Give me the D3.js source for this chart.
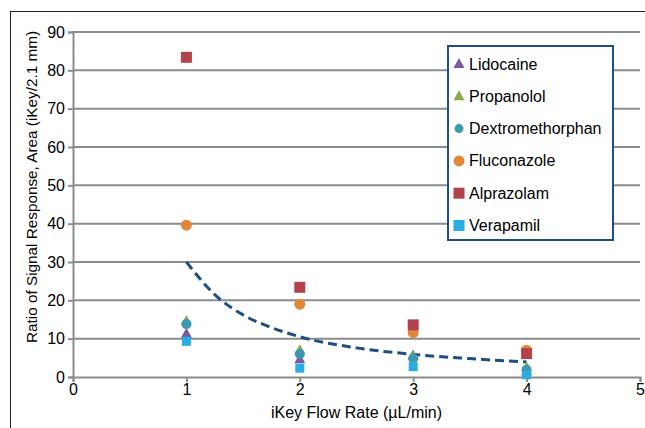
<!DOCTYPE html>
<html><head><meta charset="utf-8">
<script src="https://cdn.jsdelivr.net/npm/d3@7"></script>
<style>body{margin:0;background:#fff}svg{display:block;font-family:"Liberation Sans",Arial,sans-serif}</style>
</head><body><svg id="c" width="645" height="428"></svg>
<script>
const flowRates = [1, 2, 3, 4];
const seriesNames = ["Lidocaine", "Propanolol", "Dextromethorphan", "Fluconazole", "Alprazolam", "Verapamil"];
const lidocaine = [11.3, 4.6, 5.6, 1.5];
const propanolol = [14.6, 7.0, 5.4, 2.5];
const dextromethorphan = [13.8, 6.0, 4.9, 1.9];
const fluconazole = [39.6, 19.0, 11.6, 7.0];
const alprazolam = [83.4, 23.4, 13.6, 6.1];
const verapamil = [9.3, 2.3, 2.7, 0.6];
const trendX = [1, 1.25, 1.5, 1.75, 2, 2.5, 3, 3.5, 4];
const trendY = [30, 21.5, 16.2, 12.9, 10.5, 7.6, 5.9, 4.8, 3.9];
const xTicks = [0, 1, 2, 3, 4, 5];
const yTicks = [0, 10, 20, 30, 40, 50, 60, 70, 80, 90];

const seriesValues = [lidocaine, propanolol, dextromethorphan, fluconazole, alprazolam, verapamil];
const colors = ["#7b5b9e", "#8aaa4c", "#3b9ab0", "#e0883a", "#b3434a", "#2aace2"];
const shapes = ["tri", "tri", "circ", "circ", "sq", "sq"];
const sizes = [11, 11, 10, 11, 11, 9];

const svg = d3.select("#c");
// outer frame
svg.append("rect").attr("x", 10.5).attr("y", 11.5).attr("width", 700).attr("height", 500)
  .attr("fill", "none").attr("stroke", "#222").attr("stroke-width", 1);

const x = d3.scaleLinear().domain([0, 5]).range([73, 640]);
const y = d3.scaleLinear().domain([0, 90]).range([377, 32]);

const g = svg.append("g");
// gridlines
g.selectAll(".grid").data(yTicks.filter(d => d > 0)).join("line")
  .attr("x1", x(0)).attr("x2", x(5)).attr("y1", d => y(d)).attr("y2", d => y(d))
  .attr("stroke", "#8c8c8c").attr("stroke-width", 2);

// axes
const yAxis = d3.axisLeft(y).tickValues(yTicks).tickFormat(d3.format("d")).tickSize(5).tickPadding(3);
const xAxis = d3.axisBottom(x).tickValues(xTicks).tickFormat(d3.format("d")).tickSize(5).tickPadding(2);
const ya = svg.append("g").attr("transform", `translate(${x(0)},0)`).call(yAxis);
const xa = svg.append("g").attr("transform", `translate(0,${y(0)})`).call(xAxis);
[ya, xa].forEach(a => {
  a.select(".domain").attr("stroke", "#8c8c8c").attr("stroke-width", 2);
  a.selectAll(".tick line").attr("stroke", "#8c8c8c").attr("stroke-width", 2);
  a.selectAll("text").attr("font-size", 16).attr("fill", "#000")
    .attr("font-family", '"Liberation Sans",Arial,sans-serif');
});

// axis titles
svg.append("text").attr("x", x(2.5)).attr("y", 418).attr("text-anchor", "middle")
  .attr("font-size", 16).text("iKey Flow Rate (µL/min)");
svg.append("text").attr("transform", `translate(37,187) rotate(-90)`).attr("text-anchor", "middle")
  .attr("font-size", 15.3).text("Ratio of Signal Response, Area (iKey/2.1 mm)");

// trend line
const line = d3.line().x((d, i) => x(trendX[i])).y(d => y(d)).curve(d3.curveMonotoneX);
svg.append("path").attr("d", line(trendY)).attr("fill", "none")
  .attr("stroke", "#1f4e82").attr("stroke-width", 3).attr("stroke-dasharray", "9,5");

function marker(sel, shape, size, color) {
  if (shape === "tri") {
    const h = size * 0.9;
    sel.append("path").attr("d", `M0,${-h * 0.6}L${size / 2},${h * 0.4}L${-size / 2},${h * 0.4}Z`).attr("fill", color);
  } else if (shape === "circ") {
    sel.append("circle").attr("r", size / 2).attr("fill", color);
  } else {
    sel.append("rect").attr("x", -size / 2).attr("y", -size / 2).attr("width", size).attr("height", size).attr("fill", color);
  }
}

seriesValues.forEach((vals, si) => {
  vals.forEach((v, i) => {
    const m = svg.append("g").attr("transform", `translate(${x(flowRates[i])},${y(v)})`);
    marker(m, shapes[si], sizes[si], colors[si]);
  });
});

// legend
svg.append("rect").attr("x", 448).attr("y", 46).attr("width", 165).attr("height", 194)
  .attr("fill", "#fff").attr("stroke", "#1f4e82").attr("stroke-width", 2);
seriesNames.forEach((n, i) => {
  const cy = 64 + i * 32.3;
  const m = svg.append("g").attr("transform", `translate(459,${cy})`);
  marker(m, shapes[i], shapes[i] === "circ" && i === 2 ? 9 : 11, colors[i]);
  svg.append("text").attr("x", 469).attr("y", cy + 5.5).attr("font-size", 16).text(n);
});
</script></body></html>
